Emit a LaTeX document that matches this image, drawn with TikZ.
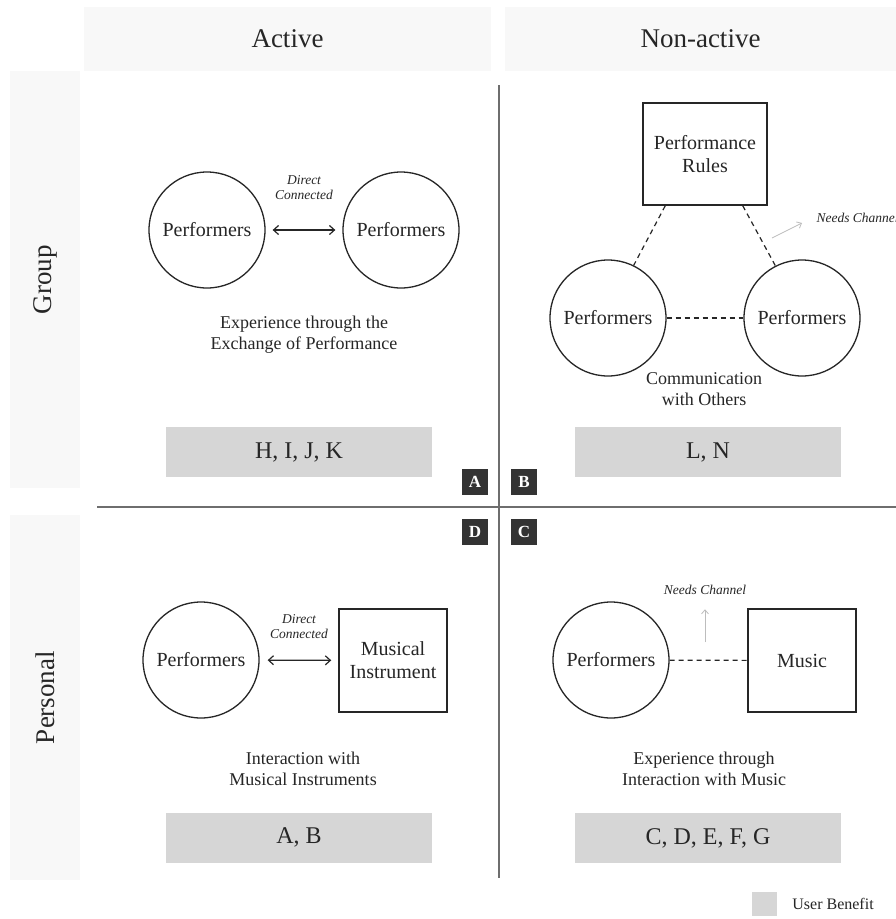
\documentclass[tikz,border=0pt]{standalone}
\usepackage{fontspec}
\setmainfont{Liberation Serif}
\usetikzlibrary{arrows.meta,calc}
\definecolor{panel}{HTML}{F8F8F8}
\definecolor{benefit}{HTML}{D6D6D6}
\definecolor{tag}{HTML}{333333}
\definecolor{ink}{HTML}{262626}
\definecolor{rule}{HTML}{6E6E6E}
\definecolor{hint}{HTML}{BDBDBD}

\begin{document}
\begin{tikzpicture}[x=1pt,y=-1pt,
  panelbox/.style={rectangle, fill=panel, draw=none, inner sep=0pt},
  heading/.style={font=\fontsize{27}{30}\selectfont, text=ink},
  agent/.style={circle, draw=ink, line width=1.3pt, minimum size=116pt, inner sep=0pt,
    font=\fontsize{20}{23}\selectfont, text=ink},
  thing/.style={rectangle, draw=ink, line width=1.5pt, minimum width=108pt, minimum height=103pt,
    inner sep=0pt, align=center, font=\fontsize{20}{23}\selectfont, text=ink},
  benefitbox/.style={rectangle, fill=benefit, minimum width=266pt, minimum height=50pt, inner sep=0pt,
    font=\fontsize{24}{28}\selectfont, text=ink},
  tagbox/.style={rectangle, fill=tag, minimum size=26pt, inner sep=0pt, text=white,
    font=\fontsize{17}{19}\selectfont\bfseries},
  caption/.style={align=center, font=\fontsize{18}{21}\selectfont, text=ink},
  linknote/.style={align=center, font=\fontsize{13.5}{15}\selectfont\itshape, text=ink},
  direct/.style={{Straight Barb[length=5pt,width=9pt]}-{Straight Barb[length=5pt,width=9pt]},
    line width=1.2pt, draw=ink},
  loose/.style={dashed, dash pattern=on 5pt off 4pt, line width=1.2pt, draw=ink},
  channel/.style={-{Straight Barb[length=4pt,width=7pt]}, line width=0.8pt, draw=hint},
  divider/.style={draw=rule, line width=1.5pt},
]

\clip (0,0) rectangle (896,919);
\fill[white] (0,0) rectangle (896,919);

% column and row headings
\node[panelbox, minimum width=407pt, minimum height=64pt] (hActive) at (287.5,39) {};
\node[heading] at (hActive) {Active};
\node[panelbox, minimum width=391pt, minimum height=64pt] (hNon) at (700.5,39) {};
\node[heading] at (hNon) {Non-active};
\node[panelbox, minimum width=70pt, minimum height=417pt] (hGroup) at (45,279.5) {};
\node[heading, rotate=90] at (hGroup) {Group};
\node[panelbox, minimum width=70pt, minimum height=365pt] (hPersonal) at (45,697.5) {};
\node[heading, rotate=90] at (hPersonal) {Personal};

% quadrant dividers
\draw[divider] (499,85) -- (499,878);
\draw[divider] (97,507) -- (896,507);

% A: group, active
\node[agent] (a1) at (207,230) {Performers};
\node[agent] (a2) at (401,230) {Performers};
\draw[direct, shorten <=7pt, shorten >=7pt] (a1) -- (a2);
\node[linknote] at (304,188) {Direct\\Connected};
\node[caption] at (304,335) {Experience through the\\Exchange of Performance};
\node[benefitbox] (bA) at (299,452) {H, I, J, K};
\node[tagbox] (tA) at (475,482) {A};

% B: group, non-active
\node[thing, minimum width=124pt, minimum height=102pt] (rules) at (705,154) {Performance\\Rules};
\node[agent] (b1) at (608,318) {Performers};
\node[agent] (b2) at (802,318) {Performers};
\draw[loose] ($(rules.south west)+(23,0)$) -- (b1.64);
\draw[loose] ($(rules.south east)+(-25,0)$) -- (b2.117);
\draw[loose] (b1) -- (b2);
\node[linknote, anchor=west] (nB) at (813,218) {Needs Channel};
\coordinate (chB) at (772,238);
\draw[channel] (chB) -- ($(nB.west)+(-11,5)$);
\node[caption] at (704,389) {Communication\\with Others};
\node[benefitbox] (bB) at (708,452) {L, N};
\node[tagbox] (tB) at (524,482) {B};

% D: personal, active
\node[tagbox] (tD) at (475,532) {D};
\node[agent] (d1) at (201,660) {Performers};
\node[thing] (inst) at (393,660.5) {Musical\\Instrument};
\draw[direct, shorten <=8pt, shorten >=7pt] (d1) -- (inst);
\node[linknote] at (299,627) {Direct\\Connected};
\node[caption] at (303,769) {Interaction with\\Musical Instruments};
\node[benefitbox] (bD) at (299,837.5) {A, B};

% C: personal, non-active
\node[tagbox] (tC) at (524,532) {C};
\node[agent] (c1) at (611,660) {Performers};
\node[thing] (music) at (802,660.5) {Music};
\draw[loose] (c1) -- (music);
\node[linknote] (nC) at (705,590) {Needs Channel};
\coordinate (chC) at (705,642);
\draw[channel] (chC) -- ($(nC.south)+(0,11)$);
\node[caption] at (704,769) {Experience through\\Interaction with Music};
\node[benefitbox] (bC) at (708,838) {C, D, E, F, G};

% legend
\node[rectangle, fill=benefit, minimum width=25pt, minimum height=24pt, inner sep=0pt] (key) at (764.5,904) {};
\node[anchor=west, font=\fontsize{16}{18}\selectfont, text=ink, inner sep=0pt] (keytext) at ($(key.east)+(15,0)$) {User Benefit};
\end{tikzpicture}
\end{document}
